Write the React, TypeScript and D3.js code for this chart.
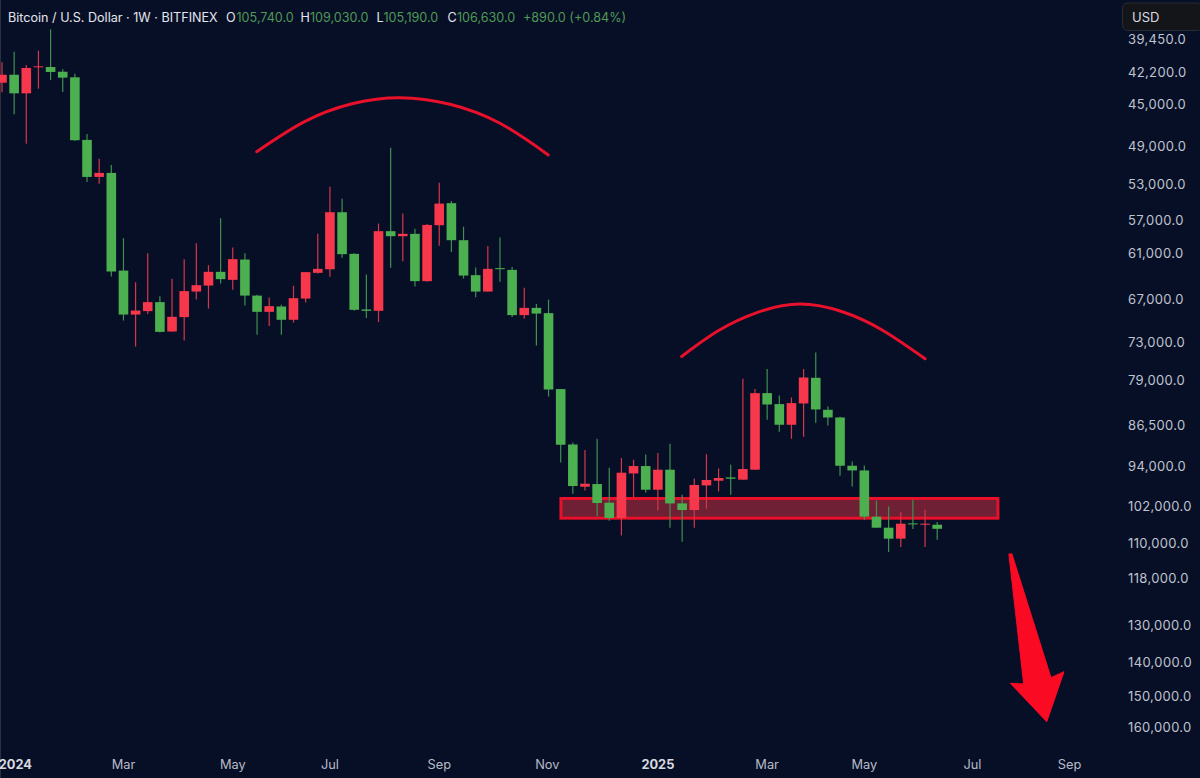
import React from "react";
import * as d3 from "d3";

const opens = [43030,42340,43970,41700,41680,42080,42560,48340,52120,51700,63060,68960,68480,67240,71380,69320,65810,65010,63220,64260,61660,66350,68580,67840,69700,66750,63350,62890,56000,60950,68250,68440,58200,58800,58520,64430,57500,54980,59280,63650,65810,62750,62970,69040,68030,68760,80250,89820,97880,97350,101120,104310,95270,93850,98480,94550,101260,102630,97620,96690,96050,96490,94550,80910,82740,86290,82630,78430,83700,85020,93790,94690,104030,106390,108790,105460,105680,105740];
const highs = [43880,45880,48710,43560,42790,43850,48440,52650,52840,63830,69800,73590,68900,71530,71430,72700,66890,68120,64750,65580,67710,71860,70600,71860,70090,67300,63420,63870,61450,68440,69460,70030,62710,61860,65140,64520,59940,60710,64090,66560,65810,64520,69320,69560,73440,81470,93160,99280,98620,103980,104880,108070,99950,99020,102710,106390,109460,106390,102360,98820,99490,96490,94550,85410,87530,88780,88420,85940,86410,95720,97820,104670,106390,111770,110650,106670,110650,109030];
const lows = [41280,40400,41510,40320,38600,41870,42250,47760,50240,50860,59040,64560,60870,66430,64130,61610,59640,62370,56680,60180,60870,66250,66620,67610,65050,63260,58520,53160,54500,60870,63570,57310,49130,56160,57930,57350,52730,54730,57670,62680,59970,58960,62590,65310,67510,66890,80250,89450,90840,88780,94170,92330,92650,91660,91400,89690,99490,96240,91590,94300,93600,78590,80250,77050,81300,81630,77050,74490,83140,84900,92970,93730,100700,101880,103050,100500,102560,105190];
const closes = [42340,43970,41760,41620,42100,42590,48370,52120,51700,63180,68960,68400,67240,71430,69280,65750,64960,63220,64170,61610,66350,68580,67790,69700,66700,63260,62840,56000,60990,68300,68440,58200,58800,58520,64430,57470,55030,59280,63700,65810,62840,62880,69040,68030,68820,80320,89870,97740,97290,101180,104310,95130,93850,98480,94550,101260,102630,97540,96550,96160,96300,94420,80910,82800,86290,82570,78380,83640,85020,93790,94690,104030,106390,108790,105530,105680,105530,106630];

const priceTicks = [39450,42200,45000,49000,53000,57000,61000,67000,73000,79000,86500,94000,102000,110000,118000,130000,140000,150000,160000];
const timeTickLabels = ["2024","Mar","May","Jul","Sep","Nov","2025","Mar","May","Jul","Sep"];
const timeTickIndex = [1.1,10,19,27,36,44.9,54,63,71,79.9,87.9];
const timeTickBold = [true,false,false,false,false,false,true,false,false,false,false];

// annotations, in [candle index, price]
const leftArc: [number, number][] = [[20.97,49510],[24.95,46550],[28.9,44890],[32.77,44360],[36.88,44960],[41,46730],[44.98,49840]];
const rightArc: [number, number][] = [[55.96,75100],[58.97,71280],[62.27,68620],[65.7,67510],[69.13,68540],[72.43,71130],[76,75450]];
const zoneIndex = [46.02,82];
const zonePrice = [100250,104350];
const arrowShape: [number, number][] = [[82.9,112240],[83.15,112200],[86.37,144340],[87.44,142590],[86.02,157870],[83.02,145990],[84.12,146210]];

const W = 1200, H = 778;
const BG = "#070f26";
const UP = "#4caf50", DOWN = "#f7384c";
const UPW = "#3f9150", DOWNW = "#d6364a";
const RED = "#e8102a";
const FONT = "Inter, 'Noto Sans', sans-serif";

const x = d3.scaleLinear().domain([0, 77]).range([2, 937.2]);
const y = d3.scaleLog().domain([39450, 160000]).range([40, 728.3]);

const arc = d3.line<[number, number]>().x(d => x(d[0])).y(d => y(d[1])).curve(d3.curveNatural);
const poly = d3.line<[number, number]>().x(d => x(d[0])).y(d => y(d[1]));

const headerParts: [string, number, string][] = [
  ["Bitcoin / U.S. Dollar · 1W · BITFINEX", 8, "#e4e6ec"],
  ["O", 226, "#e4e6ec"], ["105,740.0", 236.5, "#4f9a55"],
  ["H", 300.5, "#e4e6ec"], ["109,030.0", 310, "#4f9a55"],
  ["L", 376.5, "#e4e6ec"], ["105,190.0", 383.5, "#4f9a55"],
  ["C", 447.5, "#e4e6ec"], ["106,630.0", 457, "#4f9a55"],
  ["+890.0 (+0.84%)", 523, "#4f9a55"],
];

export default function App() {
  const bw = 9.6;
  return (
    <svg width={W} height={H} viewBox={`0 0 ${W} ${H}`} style={{ position: "fixed", left: 0, top: 0, display: "block", background: BG }}>
      <rect x={0} y={0} width={W} height={H} fill={BG} />
      <rect x={0} y={0} width={1} height={H} fill="#2a3040" />
      <rect
        x={x(zoneIndex[0])}
        y={y(zonePrice[0])}
        width={x(zoneIndex[1]) - x(zoneIndex[0])}
        height={y(zonePrice[1]) - y(zonePrice[0])}
        fill="#6f2034"
        stroke={RED}
        strokeWidth={3}
      />
      {opens.map((o, i) => {
        const c = closes[i];
        const up = c >= o;
        const top = Math.min(y(o), y(c));
        const h = Math.max(Math.abs(y(o) - y(c)), 1);
        return (
          <g key={i}>
            <line x1={x(i)} x2={x(i)} y1={y(lows[i])} y2={y(highs[i])} stroke={up ? UPW : DOWNW} strokeWidth={1.2} />
            <rect x={x(i) - bw / 2} y={top} width={bw} height={h} fill={up ? UP : DOWN} />
          </g>
        );
      })}
      <path d={arc(leftArc) ?? ""} fill="none" stroke={RED} strokeWidth={3} strokeLinecap="round" />
      <path d={arc(rightArc) ?? ""} fill="none" stroke={RED} strokeWidth={3} strokeLinecap="round" />
      <path d={(poly(arrowShape) ?? "") + "Z"} fill="#fb0a24" stroke="#fb0a24" strokeWidth={1} strokeLinejoin="round" />

      {headerParts.map(([t, px, col], i) => (
        <text key={i} x={px} y={21.5} fontFamily={FONT} fontSize={12.6} fill={col}>{t}</text>
      ))}

      {priceTicks.map(p => (
        <text key={p} x={1128} y={y(p) - 1} dominantBaseline="central" fontFamily={FONT} fontSize={13} letterSpacing={0.35} fill="#bfc3cf">
          {d3.format(",.1f")(p)}
        </text>
      ))}

      <rect x={1122.5} y={3} width={80} height={27.5} rx={5} fill="#141519" stroke="#2a2c33" />
      <text x={1132} y={16.5} dominantBaseline="central" fontFamily={FONT} fontSize={13} fill="#d8dae0">USD</text>

      {timeTickLabels.map((t, i) => (
        <text key={i} x={x(timeTickIndex[i])} y={764} textAnchor="middle" dominantBaseline="central" fontFamily={FONT} fontSize={12.8} fontWeight={timeTickBold[i] ? 700 : 400} fill={timeTickBold[i] ? "#d8dae0" : "#b7bbc7"}>
          {t}
        </text>
      ))}
    </svg>
  );
}
